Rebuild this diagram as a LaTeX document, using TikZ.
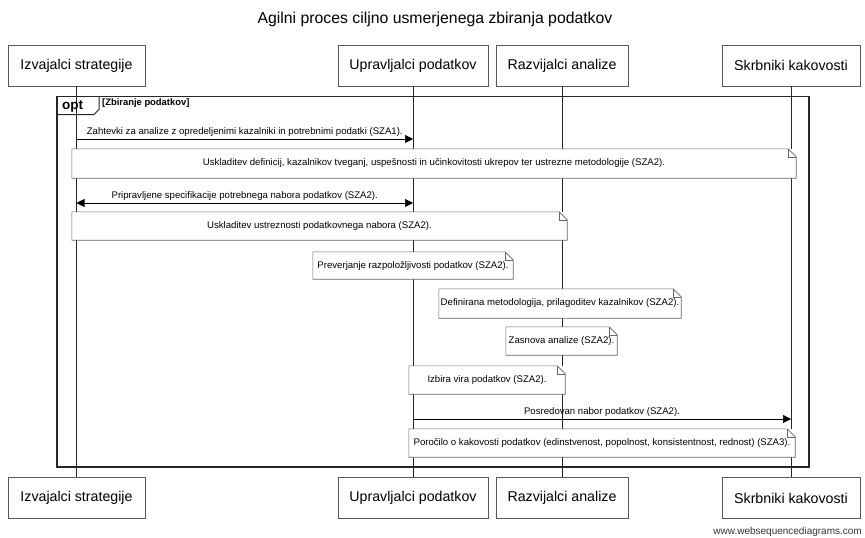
\documentclass[tikz,border=0pt]{standalone}
\usepackage{fontspec}
\setmainfont{Liberation Sans}
\usetikzlibrary{arrows.meta}

% folded-corner outline drawn around a note node
\newcommand\foldnote[1]{%
  \draw[noteline] (#1.south west) -- (#1.south east) -- ([yshift=-8pt]#1.north east)
    -- ([xshift=-8pt]#1.north east) -- (#1.north west) -- cycle;
  \draw[noteline] ([xshift=-8pt]#1.north east) |- ([yshift=-8pt]#1.north east);}

\begin{document}
\begin{tikzpicture}[x=1pt,y=-1pt,
  actor/.style={draw=black!65, line width=0.7pt, fill=white, minimum height=41pt,
    inner sep=0pt, font=\fontsize{14.2}{16}\selectfont},
  lifeline/.style={line width=0.6pt, black!85},
  notebox/.style={fill=white, inner sep=0pt, font=\fontsize{9.6}{11}\selectfont},
  noteline/.style={draw=black!60, line width=0.6pt},
  msg/.style={line width=0.7pt, -{Triangle[length=8pt,width=8pt]}},
  bimsg/.style={line width=0.7pt, {Triangle[length=8pt,width=8pt]}-{Triangle[length=8pt,width=8pt]}},
  msglabel/.style={font=\fontsize{9.6}{11}\selectfont, inner sep=2pt, above},
  framebox/.style={line width=1.5pt, black!85}]
\useasboundingbox (0,0) rectangle (865,538);

% title
\node[font=\fontsize{15.8}{18}\selectfont] (title) at (435,19) {Agilni proces ciljno usmerjenega zbiranja podatkov};

% participants, top row
\node[actor, minimum width=137pt] (izvT) at (76.5,65.5) {Izvajalci strategije};
\node[actor, minimum width=150pt] (uprT) at (413,65.5) {Upravljalci podatkov};
\node[actor, minimum width=132pt] (razT) at (562,65.5) {Razvijalci analize};
\node[actor, minimum width=138pt] (skrT) at (791,65.5) {Skrbniki kakovosti};

% participants, bottom row
\node[actor, minimum width=137pt] (izvB) at (76.5,498) {Izvajalci strategije};
\node[actor, minimum width=150pt] (uprB) at (413,498) {Upravljalci podatkov};
\node[actor, minimum width=132pt] (razB) at (562,498) {Razvijalci analize};
\node[actor, minimum width=138pt] (skrB) at (791,498) {Skrbniki kakovosti};

% lifelines
\draw[lifeline] (izvT.south) -- (izvB.north);
\draw[lifeline] (uprT.south) -- (uprB.north);
\draw[lifeline] (razT.south) -- (razB.north);
\draw[lifeline] (skrT.south) -- (skrB.north);

% opt fragment
\coordinate (fTL) at (57,96.5);
\coordinate (fBR) at (809,467);
\draw[framebox] (fTL) rectangle (fBR);
\draw[line width=1pt, black!85] (57,114.5) -- (94,114.5) -- (99,109.5) -- (99,96.5);
\node[font=\fontsize{13.5}{15}\selectfont\bfseries, anchor=west, inner sep=0pt] (optlbl) at (62,106.5) {opt};
\node[font=\fontsize{9.4}{11}\selectfont\bfseries, anchor=west, inner sep=0pt] (optcond) at (102,103.5) {[Zbiranje podatkov]};

% message levels
\coordinate (y1) at (0,139);
\coordinate (y2) at (0,203);
\coordinate (y3) at (0,419);

\draw[msg] (izvT |- y1) -- (uprT |- y1)
  node[msglabel, midway] {Zahtevki za analize z opredeljenimi kazalniki in potrebnimi podatki (SZA1).};

\node[notebox, minimum width=724pt, minimum height=29pt] (n1) at (434,163.5)
  {Uskladitev definicij, kazalnikov tveganj, uspešnosti in učinkovitosti ukrepov ter ustrezne metodologije (SZA2).};
\foldnote{n1}

\draw[bimsg] (izvT |- y2) -- (uprT |- y2)
  node[msglabel, midway] {Pripravljene specifikacije potrebnega nabora podatkov (SZA2).};

\node[notebox, minimum width=495pt, minimum height=28pt] (n2) at (319.5,226)
  {Uskladitev ustreznosti podatkovnega nabora (SZA2).};
\foldnote{n2}

\node[notebox, minimum width=200pt, minimum height=27pt] (n3) at (413,265.5)
  {Preverjanje razpoložljivosti podatkov (SZA2).};
\foldnote{n3}

\node[notebox, minimum width=242pt, minimum height=29pt] (n4) at (560,303.5)
  {Definirana metodologija, prilagoditev kazalnikov (SZA2).};
\foldnote{n4}

\node[notebox, minimum width=111pt, minimum height=28pt] (n5) at (561.5,341)
  {Zasnova analize (SZA2).};
\foldnote{n5}

\node[notebox, minimum width=156pt, minimum height=28pt] (n6) at (487,380)
  {Izbira vira podatkov (SZA2).};
\foldnote{n6}

\draw[msg] (uprT |- y3) -- (skrT |- y3)
  node[msglabel, midway] {Posredovan nabor podatkov (SZA2).};

\node[notebox, minimum width=386pt, minimum height=28pt] (n7) at (602,443)
  {Poročilo o kakovosti podatkov (edinstvenost, popolnost, konsistentnost, rednost) (SZA3).};
\foldnote{n7}

% footer
\node[font=\fontsize{10}{11}\selectfont, anchor=east, inner sep=0pt, black!80] (footer) at (862,532)
  {www.websequencediagrams.com};
\end{tikzpicture}
\end{document}
